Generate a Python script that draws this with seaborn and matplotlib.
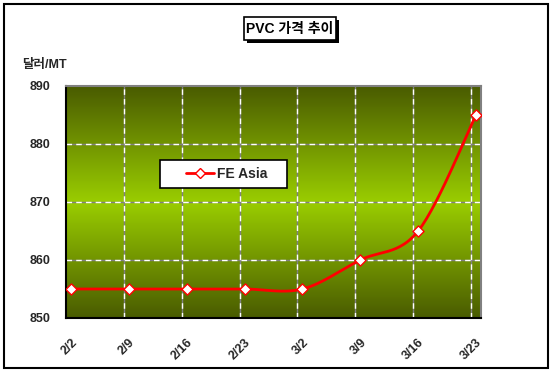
import numpy as np
import pandas as pd
import matplotlib
matplotlib.use("Agg")
import matplotlib.pyplot as plt
import seaborn as sns
from matplotlib.colors import LinearSegmentedColormap
from matplotlib.patches import Rectangle
from matplotlib.lines import Line2D

sns.set_theme(style="white")
plt.rcParams['font.family'] = ['Liberation Sans', 'Noto Sans CJK KR']

dates = ["2/2", "2/9", "2/16", "2/23", "3/2", "3/9", "3/16", "3/23"]
fe_asia = [855, 855, 855, 855, 855, 860, 865, 885]
yticks = [850, 860, 870, 880, 890]

df = pd.DataFrame({"x": np.arange(len(dates)), "price": fe_asia})

fig = plt.figure(figsize=(5.53, 3.72), dpi=100)
fig.patch.set_facecolor("white")
W, H = 553, 372
ax = fig.add_axes([66 / W, 1 - 318 / H, (481 - 66) / W, (318 - 86) / H])

# gradient background
grad = np.concatenate([np.linspace(0, 1, 50), np.linspace(1, 0, 50)]).reshape(-1, 1)
cmap = LinearSegmentedColormap.from_list("g", ["#4a5c00", "#99cc00"])
ax.imshow(grad, aspect="auto", cmap=cmap, extent=[0, 1, 0, 1],
          transform=ax.transAxes, zorder=0, interpolation="bilinear")

off = 0.086
ax.set_xlim(-off, len(dates) - 1 + off)
ax.set_ylim(850, 890)

# grid lines
for yv in yticks[1:-1]:
    ax.axhline(yv, color="#808080", lw=1, zorder=1)
    ax.axhline(yv, color="white", lw=1, ls=(0, (4, 3)), zorder=1.1)
for i in range(1, len(dates)):
    xv = i - off
    ax.axvline(xv, color="#808080", lw=1, zorder=1)
    ax.axvline(xv, color="white", lw=1, ls=(0, (4, 3)), zorder=1.1)

# smoothed line (Excel-like Catmull-Rom bezier)
x = df["x"].to_numpy(float)
y = df["price"].to_numpy(float)
px, py = [], []
n = len(x)
for i in range(n - 1):
    p0 = np.array([x[max(i - 1, 0)], y[max(i - 1, 0)]])
    p1 = np.array([x[i], y[i]])
    p2 = np.array([x[i + 1], y[i + 1]])
    p3 = np.array([x[min(i + 2, n - 1)], y[min(i + 2, n - 1)]])
    c1 = p1 + (p2 - p0) / 6
    c2 = p2 - (p3 - p1) / 6
    t = np.linspace(0, 1, 30)[:, None]
    pts = (1 - t) ** 3 * p1 + 3 * (1 - t) ** 2 * t * c1 + 3 * (1 - t) * t ** 2 * c2 + t ** 3 * p2
    px.extend(pts[:, 0]); py.extend(pts[:, 1])
ax.plot(px, py, color="#ff0000", lw=2, zorder=3, solid_capstyle="butt")

sns.scatterplot(data=df, x="x", y="price", ax=ax, marker="D", s=32,
                color="white", edgecolor="#ff0000", linewidth=1, zorder=4, legend=False)

ax.set_xticks(range(len(dates)))
ax.set_xticklabels(dates, rotation=45, ha="right", va="top", rotation_mode="anchor",
                   fontsize=9, fontweight="bold")
ax.set_yticks(yticks)
ax.set_yticklabels([str(v) for v in yticks], fontsize=9, fontweight="bold")
ax.tick_params(axis="x", length=0, pad=13)
ax.tick_params(axis="y", length=0, pad=11)
ax.set_xlabel("")
ax.set_ylabel("")

for s in ["left", "bottom"]:
    ax.spines[s].set_color("black"); ax.spines[s].set_linewidth(1.5)
for s in ["top", "right"]:
    ax.spines[s].set_color("#808080"); ax.spines[s].set_linewidth(1.5)

# legend box
ax.add_patch(Rectangle(((160 - 66) / 415, (318 - 188) / 232), 127 / 415, 28 / 232,
                       transform=ax.transAxes, fc="white", ec="black", lw=1.2, zorder=5))
h = Line2D([], [], color="#ff0000", lw=2, marker="D", markersize=5.5,
           markerfacecolor="white", markeredgecolor="#ff0000")
leg = ax.legend([h], ["FE Asia"], loc="center left",
                bbox_to_anchor=((186 - 66) / 415, (318 - 174) / 232),
                frameon=False, prop={"weight": "bold", "size": 10},
                borderpad=0, handlelength=2.0, handletextpad=0.2, borderaxespad=0)
leg.set_zorder(6)

# title box with shadow
fig.patches.append(Rectangle((247 / W, 1 - 43 / H), 92 / W, 23 / H,
                             transform=fig.transFigure, fc="black", ec="none", zorder=1))
fig.patches.append(Rectangle((244 / W, 1 - 40 / H), 92 / W, 23 / H,
                             transform=fig.transFigure, fc="white", ec="black", lw=1.2, zorder=2))
fig.text(290 / W, 1 - 29 / H, "PVC 가격 추이", ha="center", va="center",
         fontsize=10, fontweight="bold", color="black", zorder=3)

fig.text(22 / W, 1 - 65 / H, "달러/MT", ha="left", va="center", fontsize=9, fontweight="bold")

# figure border
fig.patches.append(Rectangle((4 / W, 1 - 368 / H), 544 / W, 364 / H, transform=fig.transFigure,
                             fc="none", ec="black", lw=1.5))

fig.savefig("out.png", dpi=100)
